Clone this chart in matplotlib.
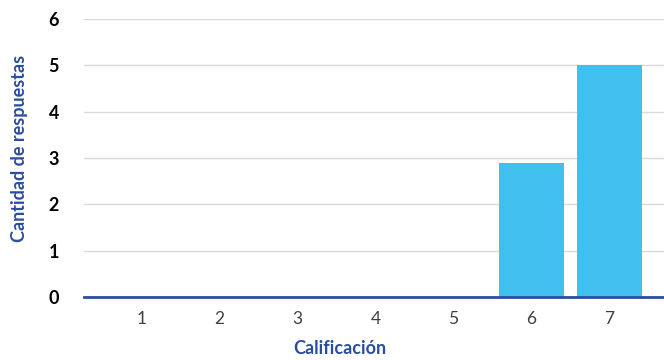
import matplotlib.pyplot as plt

calificaciones = ['1', '2', '3', '4', '5', '6', '7']
respuestas = [0, 0, 0, 0, 0, 2.9, 5]

azul = '#2a4da0'
celeste = '#41bfee'

plt.rcParams['font.family'] = ['Lato', 'DejaVu Sans']

fig = plt.figure(figsize=(6.64, 3.6), dpi=100)
ax = fig.add_axes([84 / 664, 63 / 360, 580 / 664, 278 / 360])

pos = list(range(1, len(calificaciones) + 1))
ax.bar(pos, respuestas, width=0.83, color=celeste, zorder=3)

ax.set_xlim(0.26, 7.7)
ax.set_ylim(0, 6)
ax.set_yticks(range(0, 7))
ax.set_xticks(pos)
ax.set_xticklabels(calificaciones)

ax.grid(axis='y', color='#d9d9d9', linewidth=1, zorder=0)
for s in ['top', 'right', 'left']:
    ax.spines[s].set_visible(False)
ax.spines['bottom'].set_color(azul)
ax.spines['bottom'].set_linewidth(2)
ax.spines['bottom'].set_zorder(4)

ax.tick_params(axis='y', length=0, pad=18, labelsize=13, labelcolor='black')
ax.tick_params(axis='x', length=0, pad=10, labelsize=12.5, labelcolor='#404040')
for lbl in ax.get_yticklabels():
    lbl.set_fontweight('bold')

ax.set_xlabel('Calificación', color=azul, fontweight='bold', fontsize=13)
ax.set_ylabel('Cantidad de respuestas', color=azul, fontweight='bold', fontsize=13)
ax.xaxis.set_label_coords(0.441, -0.155)
ax.yaxis.set_label_coords(-0.097, 0.536)

fig.savefig('out.png', dpi=100)
